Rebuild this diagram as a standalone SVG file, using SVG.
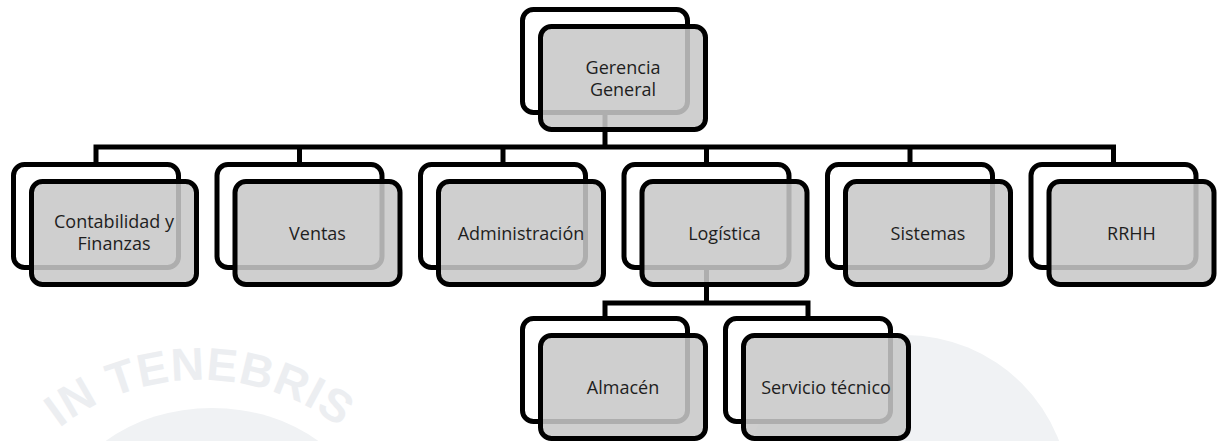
<svg xmlns="http://www.w3.org/2000/svg" width="1222" height="441" viewBox="0 0 1222 441">
  <defs>
    <style>
      .conn { fill: none; stroke: #000; stroke-width: 5; stroke-linejoin: miter; stroke-linecap: butt; }
      .back { fill: #ffffff; stroke: #000; stroke-width: 5; }
      .front { fill: #c8c8c8; fill-opacity: 0.87; stroke: #000; stroke-width: 5; }
      .lbl { font-family: "Open Sans", "Noto Sans", "DejaVu Sans", sans-serif; font-size: 18px; fill: #1e1e1e; text-anchor: middle; }
      .wm { fill: #f0f2f4; }
      .wmtext { font-family: "Liberation Sans", "DejaVu Sans", sans-serif; font-size: 46px; font-weight: bold; fill: #eceef1; letter-spacing: 1px; }
    </style>
    <path id="wmArc" d="M 0.8 495 A 230 230 0 0 1 399.2 495"/>
  </defs>
  <rect x="0" y="0" width="1222" height="441" fill="#ffffff"/>

  <g id="watermark">
    <ellipse class="wm" cx="212" cy="520" rx="150" ry="112"/>
    <circle class="wm" cx="905" cy="500" r="165"/>
    <text class="wmtext"><textPath href="#wmArc" startOffset="50%" text-anchor="middle">IN TENEBRIS</textPath></text>
  </g>

  <g id="connectors">
    <path class="conn" d="M605 112 V147"/>
    <path class="conn" d="M96 164.5 V147 H1113.5 V164.5"/>
    <path class="conn" d="M299.5 147 V164.5"/>
    <path class="conn" d="M503 147 V164.5"/>
    <path class="conn" d="M706.5 147 V164.5"/>
    <path class="conn" d="M910 147 V164.5"/>
    <path class="conn" d="M706.5 267 V303"/>
    <path class="conn" d="M605 318.5 V303 H808 V318.5"/>
  </g>

  <g id="node-gerencia">
    <rect class="back" x="522.5" y="9.5" width="165" height="103" rx="11"/>
    <rect class="front" x="540.5" y="26.5" width="165" height="103" rx="11"/>
    <text class="lbl" x="623" y="74">Gerencia</text>
    <text class="lbl" x="623" y="96">General</text>
  </g>

  <g id="node-contabilidad">
    <rect class="back" x="13.5" y="164.5" width="165" height="103" rx="11"/>
    <rect class="front" x="31.5" y="181.5" width="165" height="103" rx="11"/>
    <text class="lbl" x="114" y="228">Contabilidad y</text>
    <text class="lbl" x="114" y="250">Finanzas</text>
  </g>

  <g id="node-ventas">
    <rect class="back" x="217" y="164.5" width="165" height="103" rx="11"/>
    <rect class="front" x="235" y="181.5" width="165" height="103" rx="11"/>
    <text class="lbl" x="317.5" y="240">Ventas</text>
  </g>

  <g id="node-administracion">
    <rect class="back" x="420.5" y="164.5" width="165" height="103" rx="11"/>
    <rect class="front" x="438.5" y="181.5" width="165" height="103" rx="11"/>
    <text class="lbl" x="521" y="240">Administración</text>
  </g>

  <g id="node-logistica">
    <rect class="back" x="624" y="164.5" width="165" height="103" rx="11"/>
    <rect class="front" x="642" y="181.5" width="165" height="103" rx="11"/>
    <text class="lbl" x="724.5" y="240">Logística</text>
  </g>

  <g id="node-sistemas">
    <rect class="back" x="827.5" y="164.5" width="165" height="103" rx="11"/>
    <rect class="front" x="845.5" y="181.5" width="165" height="103" rx="11"/>
    <text class="lbl" x="928" y="240">Sistemas</text>
  </g>

  <g id="node-rrhh">
    <rect class="back" x="1031" y="164.5" width="165" height="103" rx="11"/>
    <rect class="front" x="1049" y="181.5" width="165" height="103" rx="11"/>
    <text class="lbl" x="1131.5" y="240">RRHH</text>
  </g>

  <g id="node-almacen">
    <rect class="back" x="522.5" y="318.5" width="165" height="103" rx="11"/>
    <rect class="front" x="540.5" y="335.5" width="165" height="103" rx="11"/>
    <text class="lbl" x="623" y="394">Almacén</text>
  </g>

  <g id="node-servicio">
    <rect class="back" x="725.5" y="318.5" width="165" height="103" rx="11"/>
    <rect class="front" x="743.5" y="335.5" width="165" height="103" rx="11"/>
    <text class="lbl" x="826" y="394">Servicio técnico</text>
  </g>
</svg>
